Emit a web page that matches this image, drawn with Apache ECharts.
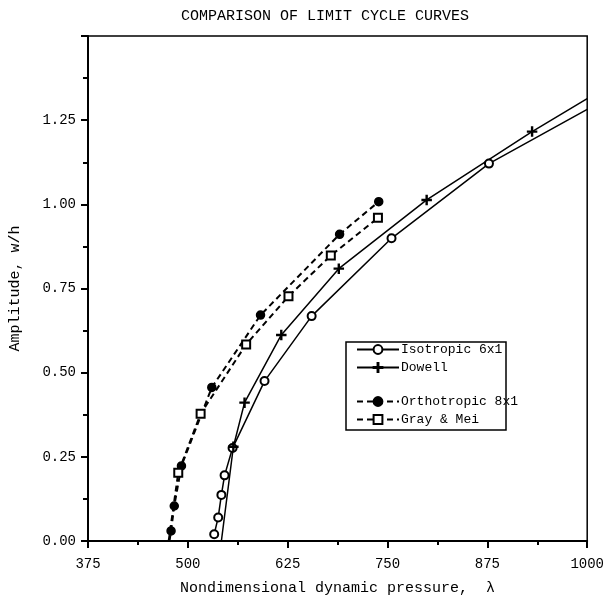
<!DOCTYPE html>
<html>
<head>
<meta charset="utf-8">
<script src="https://cdn.jsdelivr.net/npm/echarts@6/dist/echarts.min.js"></script>
<style>
  html, body { margin: 0; padding: 0; background: #fff; }
  #chart { width: 607px; height: 601px; }
</style>
</head>
<body>
<div id="chart"></div>
<script>
// Limit cycle amplitude w/h versus nondimensional dynamic pressure (lambda)
const xTicks = [375, 500, 625, 750, 875, 1000];
const yTicks = [0, 0.25, 0.5, 0.75, 1.0, 1.25, 1.5];

const isotropic6x1 = [
  [533, 0.02], [538, 0.07], [542, 0.137], [546, 0.195], [556, 0.276],
  [596, 0.475], [655, 0.668], [755, 0.899], [877, 1.121], [1000, 1.282]
];
const dowell = [
  [542, 0.0], [557, 0.28], [571, 0.411], [617, 0.612], [689, 0.809],
  [799, 1.013], [931, 1.216], [1000, 1.314]
];
const orthotropic8x1 = [
  [477, 0.0], [479, 0.03], [483, 0.104], [492, 0.223], [530, 0.456],
  [591, 0.671], [690, 0.911], [739, 1.008]
];
const grayMei = [
  [476, 0.0], [488, 0.203], [516, 0.378], [573, 0.584], [626, 0.727],
  [679, 0.848], [738, 0.960]
];

// curve end points that touch an axis carry no marker
const bareEnds = {
  'Isotropic 6x1': [isotropic6x1.length - 1],
  'Dowell': [0, dowell.length - 1],
  'Orthotropic 8x1': [0],
  'Gray & Mei': [0]
};

const mono = "'Liberation Mono', 'DejaVu Sans Mono', monospace";
const plusPath = 'path://M4.5,0 H5.5 V4.5 H10 V5.5 H5.5 V10 H4.5 V5.5 H0 V4.5 H4.5 Z';

function makeSeries(name, pts, symbol, size, dashed) {
  const skip = bareEnds[name] || [];
  return {
    name: name,
    type: 'line',
    symbol: symbol,
    symbolSize: size,
    clip: false,
    data: pts.map((p, i) => skip.includes(i) ? { value: p, symbol: 'none' } : p),
    lineStyle: { color: '#000', width: dashed ? 2 : 1.5, type: dashed ? [6, 4] : 'solid' },
    itemStyle: { color: '#000', borderColor: '#000', borderWidth: 1.5 },
    emphasis: { disabled: true },
    z: 3
  };
}

const chart = echarts.init(document.getElementById('chart'), null, { renderer: 'canvas' });

chart.setOption({
  backgroundColor: '#fff',
  animation: false,
  title: {
    text: 'COMPARISON OF LIMIT CYCLE CURVES',
    left: 176,
    top: 4,
    textStyle: { fontFamily: mono, fontSize: 15, fontWeight: 'normal', color: '#000' }
  },
  grid: {
    left: 84, right: 18, top: 36, bottom: 60,
    show: true, borderColor: '#000', borderWidth: 1.5, backgroundColor: 'transparent'
  },
  legend: [
    {
      data: ['Isotropic 6x1', 'Dowell'],
      orient: 'vertical', left: 356, top: 343,
      itemWidth: 42, itemHeight: 11, itemGap: 5, padding: 0,
      textStyle: { fontFamily: mono, fontSize: 13, color: '#000', padding: [0, 0, 0, -3] }
    },
    {
      data: ['Orthotropic 8x1', 'Gray & Mei'],
      orient: 'vertical', left: 356, top: 395,
      itemWidth: 42, itemHeight: 11, itemGap: 5, padding: 0,
      textStyle: { fontFamily: mono, fontSize: 13, color: '#000', padding: [0, 0, 0, -3] }
    }
  ],
  graphic: [
    {
      type: 'rect',
      shape: { x: 346, y: 342, width: 160, height: 88 },
      style: { fill: 'transparent', stroke: '#000', lineWidth: 1.5 },
      z: 10
    }
  ],
  xAxis: {
    type: 'value',
    min: xTicks[0], max: xTicks[xTicks.length - 1], interval: 125,
    name: 'Nondimensional dynamic pressure,  λ',
    nameLocation: 'middle', nameGap: 40,
    nameTextStyle: { fontFamily: mono, fontSize: 15, color: '#000' },
    axisLine: { show: true, lineStyle: { color: '#000', width: 2 } },
    axisTick: { show: true, length: 7, lineStyle: { color: '#000', width: 2 } },
    minorTick: { show: true, splitNumber: 2, length: 4, lineStyle: { color: '#000', width: 2 } },
    axisLabel: { fontFamily: mono, fontSize: 14, color: '#000', margin: 16, formatter: v => String(v) },
    splitLine: { show: false }
  },
  yAxis: {
    type: 'value',
    min: yTicks[0], max: yTicks[yTicks.length - 1], interval: 0.25,
    name: 'Amplitude, w/h',
    nameLocation: 'middle', nameGap: 65,
    nameTextStyle: { fontFamily: mono, fontSize: 15, color: '#000' },
    axisLine: { show: true, lineStyle: { color: '#000', width: 2 } },
    axisTick: { show: true, length: 7, lineStyle: { color: '#000', width: 2 } },
    minorTick: { show: true, splitNumber: 2, length: 5, lineStyle: { color: '#000', width: 2 } },
    axisLabel: {
      fontFamily: mono, fontSize: 14, color: '#000', margin: 12,
      formatter: v => (v >= 1.5 ? '' : v.toFixed(2))
    },
    splitLine: { show: false }
  },
  series: [
    makeSeries('Isotropic 6x1', isotropic6x1, 'emptyCircle', 8, false),
    makeSeries('Dowell', dowell, plusPath, 9, false),
    makeSeries('Orthotropic 8x1', orthotropic8x1, 'circle', 8, true),
    makeSeries('Gray & Mei', grayMei, 'emptyRect', 8, true)
  ]
});
</script>
</body>
</html>
